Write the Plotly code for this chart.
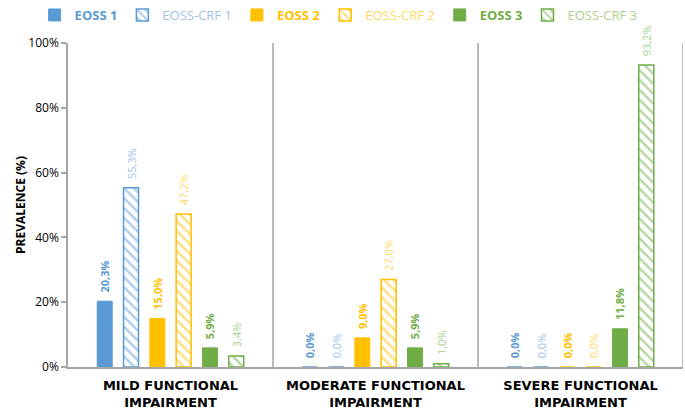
import plotly.graph_objects as go

categories = ["MILD FUNCTIONAL<br>IMPAIRMENT", "MODERATE FUNCTIONAL<br>IMPAIRMENT", "SEVERE FUNCTIONAL<br>IMPAIRMENT"]
series_names = ["EOSS 1", "EOSS-CRF 1", "EOSS 2", "EOSS-CRF 2", "EOSS 3", "EOSS-CRF 3"]
eoss1 = [20.3, 0.0, 0.0]
eoss_crf1 = [55.3, 0.0, 0.0]
eoss2 = [15.0, 9.0, 0.0]
eoss_crf2 = [47.2, 27.0, 0.0]
eoss3 = [5.9, 5.9, 11.8]
eoss_crf3 = [3.4, 1.0, 93.2]
y_ticks = [0, 20, 40, 60, 80, 100]

values = [eoss1, eoss_crf1, eoss2, eoss_crf2, eoss3, eoss_crf3]
base_colors = ["#5B9BD5", "#5B9BD5", "#FFC000", "#FFC000", "#70AD47", "#70AD47"]
text_colors = ["#5B9BD5", "#9DC3E6", "#FFC000", "#FFD966", "#70AD47", "#A9D18E"]
hatched = [False, True, False, True, False, True]

FONT = "Open Sans"
PAD = "\u00a0\u00a0"
fig = go.Figure()
for name, vals, bc, tc, h in zip(series_names, values, base_colors, text_colors, hatched):
    labels = [f"{v:.1f}%".replace(".", ",") for v in vals]
    if not h:
        labels = [f"{PAD}<b>{t}</b>" for t in labels]
        legend_name = f"<b><span style='color:{tc}'>{name}</span></b>"
        marker = dict(color=bc, line=dict(color=bc, width=1))
    else:
        labels = [f"{PAD}{t}" for t in labels]
        legend_name = f"<span style='color:{tc}'>{name}</span>"
        marker = dict(color="white", line=dict(color=bc, width=1.5),
                      pattern=dict(shape="\\", fgcolor=bc, bgcolor="white", size=7, solidity=0.35))
    fig.add_trace(go.Bar(
        x=categories, y=[v / 100 for v in vals], name=legend_name,
        marker=marker, text=labels, textposition="outside", textangle=-90,
        constraintext="none",
        textfont=dict(family=FONT, size=11, color=tc), cliponaxis=False,
    ))

shapes = []
for i in range(len(categories)):
    shapes.append(dict(type="line", xref="x", yref="paper", x0=i + 0.5, x1=i + 0.5, y0=0, y1=1,
                       line=dict(color="#A6A6A6", width=1.5)))

fig.update_layout(
    width=685, height=411,
    margin=dict(l=68, r=2, t=43, b=44, autoexpand=False),
    paper_bgcolor="white", plot_bgcolor="white",
    barmode="group", bargap=0.23, bargroupgap=0.43,
    font=dict(family=FONT, color="#404040", size=12),
    showlegend=True,
    legend=dict(orientation="h", x=0.44, xanchor="center", y=1.0, yref="container", yanchor="top",
                font=dict(size=13, family=FONT), itemwidth=30, tracegroupgap=0,
                bgcolor="rgba(0,0,0,0)"),
    shapes=shapes,
)
fig.update_xaxes(showgrid=False, showline=True, linecolor="#A6A6A6", linewidth=1.5,
                 tickfont=dict(family="DejaVu Sans", size=13, color="#000000"), ticks="",
                 tickvals=categories, ticktext=[f"<b>{c}</b>" for c in categories],
                 ticklabelstandoff=6,
                 range=[-0.5, 2.5], automargin=False)
fig.update_yaxes(range=[0, 1], tickvals=[t / 100 for t in y_ticks],
                 ticktext=[f"{t}%" for t in y_ticks], showgrid=False, zeroline=False,
                 showline=True, linecolor="#A6A6A6", linewidth=1.5,
                 ticks="outside", ticklen=5, tickcolor="#A6A6A6", tickwidth=1.5,
                 tickfont=dict(family=FONT, size=12, color="#000000"), automargin=False,
                 title=dict(text="<b>PREVALENCE (%)</b>", font=dict(family=FONT, size=12, color="#000000"), standoff=0))

fig.write_html("out.html", config={"displayModeBar": False},
               post_script="document.body.style.margin='0';")
